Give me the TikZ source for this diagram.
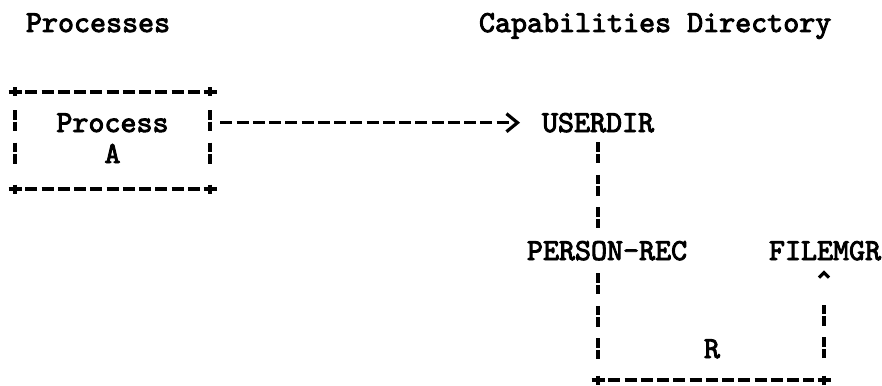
\documentclass[tikz,border=0pt]{standalone}
\usepackage{fontspec}
\usetikzlibrary{arrows.meta}
\newfontfamily\mono[FakeBold=3]{lmmono10-regular.otf}
\tikzset{
  ink/.style={line width=3.2pt, draw=black},
  txt/.style={inner sep=0pt, outer sep=0pt, font=\mono\fontsize{30.5}{31}\selectfont},
  hdash/.style={ink, dash pattern=on 12pt off 4.25pt},
  vbar/.style={ink, dash pattern=on 9.5pt off 2pt on 9.5pt off 11.5pt},
  % eighteen dashes, then a clear run before the chevron
  shaft/.style={ink, dash pattern=on 12pt off 4.25pt on 12pt off 4.25pt on 12pt off 4.25pt
    on 12pt off 4.25pt on 12pt off 4.25pt on 12pt off 4.25pt on 12pt off 4.25pt
    on 12pt off 4.25pt on 12pt off 4.25pt on 12pt off 4.25pt on 12pt off 4.25pt
    on 12pt off 4.25pt on 12pt off 4.25pt on 12pt off 4.25pt on 12pt off 4.25pt
    on 12pt off 4.25pt on 12pt off 4.25pt on 12pt off 60pt},
  % two broken bars, then a clear run below the caret
  riser/.style={ink, dash pattern=on 9.5pt off 2pt on 9.5pt off 11.5pt on 9.5pt off 2pt on 9.5pt off 100pt},
  plusmark/.pic={\draw[line width=3.2pt] (-6.5,0)--(6.5,0) (0,-4.5)--(0,4.5);}
}
\begin{document}
\begin{tikzpicture}[x=1pt,y=-1pt]
  \useasboundingbox (0,0) rectangle (882,385);

  % headings
  \node[txt, anchor=base west] (titleP) at (26,32) {Processes};
  \node[txt, anchor=base west] (titleC) at (479,32) {Capabilities Directory};

  % the process box
  \node[txt, minimum width=195pt, minimum height=97pt, align=center,
        text height=45pt, execute at begin node=\setlength{\baselineskip}{31pt}]
        (procA) at (112.5,140.5) {Process\\A};
  \draw[hdash, shorten <=10.25pt, shorten >=10.25pt] (procA.north west) -- (procA.north east);
  \draw[hdash, shorten <=10.25pt, shorten >=10.25pt] (procA.south west) -- (procA.south east);
  \draw[vbar, shorten <=18pt, shorten >=25pt] (procA.north west) -- (procA.south west);
  \draw[vbar, shorten <=18pt, shorten >=25pt] (procA.north east) -- (procA.south east);
  \foreach \c in {north west, north east, south west, south east}
    \pic at (procA.\c) {plusmark};

  % directory entries
  \node[txt, anchor=base west] (userdir) at (542,132) {USERDIR};
  \node[txt, anchor=base west] (personrec) at (527,260) {PERSON-REC};
  \node[txt, anchor=base west] (filemgr) at (769,260) {FILEMGR};
  \node[txt, anchor=base] (rlabel) at (712,358) {R};

  \coordinate (bl) at (598,380);
  \coordinate (br) at (824,380);

  % process A holds a capability for USERDIR
  \draw[shaft, -{Straight Barb[length=11pt,width=18pt]}, shorten <=10.25pt, shorten >=22pt]
    (procA.east |- userdir.west) -- (userdir.west);
  % USERDIR -> PERSON-REC
  \draw[vbar, shorten <=10pt, shorten >=13pt] (userdir.south -| bl) -- (personrec.north -| bl);
  % PERSON-REC -> FILEMGR with right R
  \draw[vbar, shorten <=13pt, shorten >=20pt] (personrec.south -| bl) -- (bl);
  \draw[hdash, shorten <=10.25pt, shorten >=10.25pt] (bl) -- (br);
  \draw[riser, -{Straight Barb[length=5pt,width=10pt]}, shorten <=22pt, shorten >=10pt]
    (br) -- (br |- filemgr.south);
  \pic at (bl) {plusmark};
  \pic at (br) {plusmark};
\end{tikzpicture}
\end{document}
